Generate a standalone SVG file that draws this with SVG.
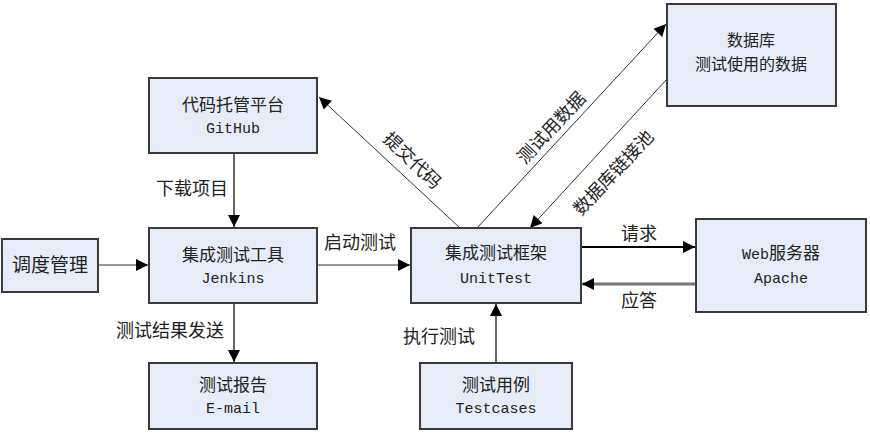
<svg xmlns="http://www.w3.org/2000/svg" width="870" height="436" viewBox="0 0 870 436">
<style>
.box{fill:#e6edf8;stroke:#3a3a3a;stroke-width:2}
.t{font-family:"Liberation Mono","Noto Sans CJK SC",monospace;font-size:15px;fill:#222;text-anchor:middle}
.c{font-family:"Noto Sans CJK SC",sans-serif;font-size:17px;fill:#222;text-anchor:middle}
.cn{font-family:"Noto Sans CJK SC",sans-serif;font-size:18px;fill:#222}
.ln{stroke:#333;stroke-width:1;fill:none}
.g{stroke:#666;stroke-width:2;fill:none}
</style>
<defs>
<marker id="b" viewBox="0 0 10 10" refX="10" refY="5" markerWidth="14" markerHeight="12" markerUnits="userSpaceOnUse" orient="auto"><path d="M0,0L10,5L0,10z" fill="#000"/></marker>
</defs>
<g id="connectors">
<line class="g" x1="234" y1="153" x2="234" y2="227" marker-end="url(#b)"/>
<line class="ln" x1="98" y1="265" x2="148" y2="265" marker-end="url(#b)"/>
<line class="ln" x1="317" y1="265" x2="410" y2="265" marker-end="url(#b)"/>
<line class="g" x1="234" y1="303" x2="234" y2="362" marker-end="url(#b)"/>
<line class="ln" x1="460" y1="228" x2="319" y2="97" marker-end="url(#b)"/>
<line class="ln" x1="477" y1="228" x2="666" y2="24" marker-end="url(#b)"/>
<line class="ln" x1="667" y1="79" x2="530" y2="228" marker-end="url(#b)"/>
<line x1="581" y1="247" x2="695" y2="247" stroke="#000" stroke-width="2" marker-end="url(#b)"/>
<line x1="696" y1="284" x2="582" y2="284" stroke="#777" stroke-width="3" marker-end="url(#b)"/>
<line class="g" x1="496" y1="363" x2="496" y2="304" marker-end="url(#b)"/>
<text class="cn" x="156" y="195">下载项目</text>
<text class="cn" x="324" y="249">启动测试</text>
<text class="cn" x="116" y="337">测试结果发送</text>
<text class="cn" x="403" y="343">执行测试</text>
<text class="cn" x="621" y="240">请求</text>
<text class="cn" x="621" y="307">应答</text>
<text class="cn" text-anchor="middle" transform="translate(408,165) rotate(44)">提交代码</text>
<text class="cn" text-anchor="middle" transform="translate(556,132) rotate(-47)">测试用数据</text>
<text class="cn" text-anchor="middle" transform="translate(618,177) rotate(-47)">数据库链接池</text>
</g>
<g id="github"><rect class="box" x="149" y="78" width="168" height="75"/><text class="c" x="233" y="111">代码托管平台</text><text class="t" x="233" y="133">GitHub</text></g>
<g id="scheduler"><rect class="box" x="2" y="239" width="96" height="53"/><text class="c" x="50" y="272" style="font-size:19px">调度管理</text></g>
<g id="jenkins"><rect class="box" x="149" y="228" width="168" height="75"/><text class="c" x="233" y="261">集成测试工具</text><text class="t" x="233" y="283">Jenkins</text></g>
<g id="email"><rect class="box" x="149" y="363" width="168" height="66"/><text class="c" x="233" y="391">测试报告</text><text class="t" x="233" y="413">E-mail</text></g>
<g id="unittest"><rect class="box" x="411" y="228" width="170" height="75"/><text class="c" x="496" y="259">集成测试框架</text><text class="t" x="496" y="283">UnitTest</text></g>
<g id="apache"><rect class="box" x="696" y="219" width="170" height="93"/><text class="t" x="781" y="259">Web<tspan style="font-family:'Noto Sans CJK SC',sans-serif;font-size:17px">服务器</tspan></text><text class="t" x="781" y="283">Apache</text></g>
<g id="testcases"><rect class="box" x="420" y="363" width="152" height="66"/><text class="c" x="496" y="391">测试用例</text><text class="t" x="496" y="413">Testcases</text></g>
<g id="database"><rect class="box" x="667" y="4" width="169" height="102"/><text class="c" x="751" y="46" style="font-size:16px">数据库</text><text class="c" x="751" y="70" style="font-size:16px">测试使用的数据</text></g>
</svg>
